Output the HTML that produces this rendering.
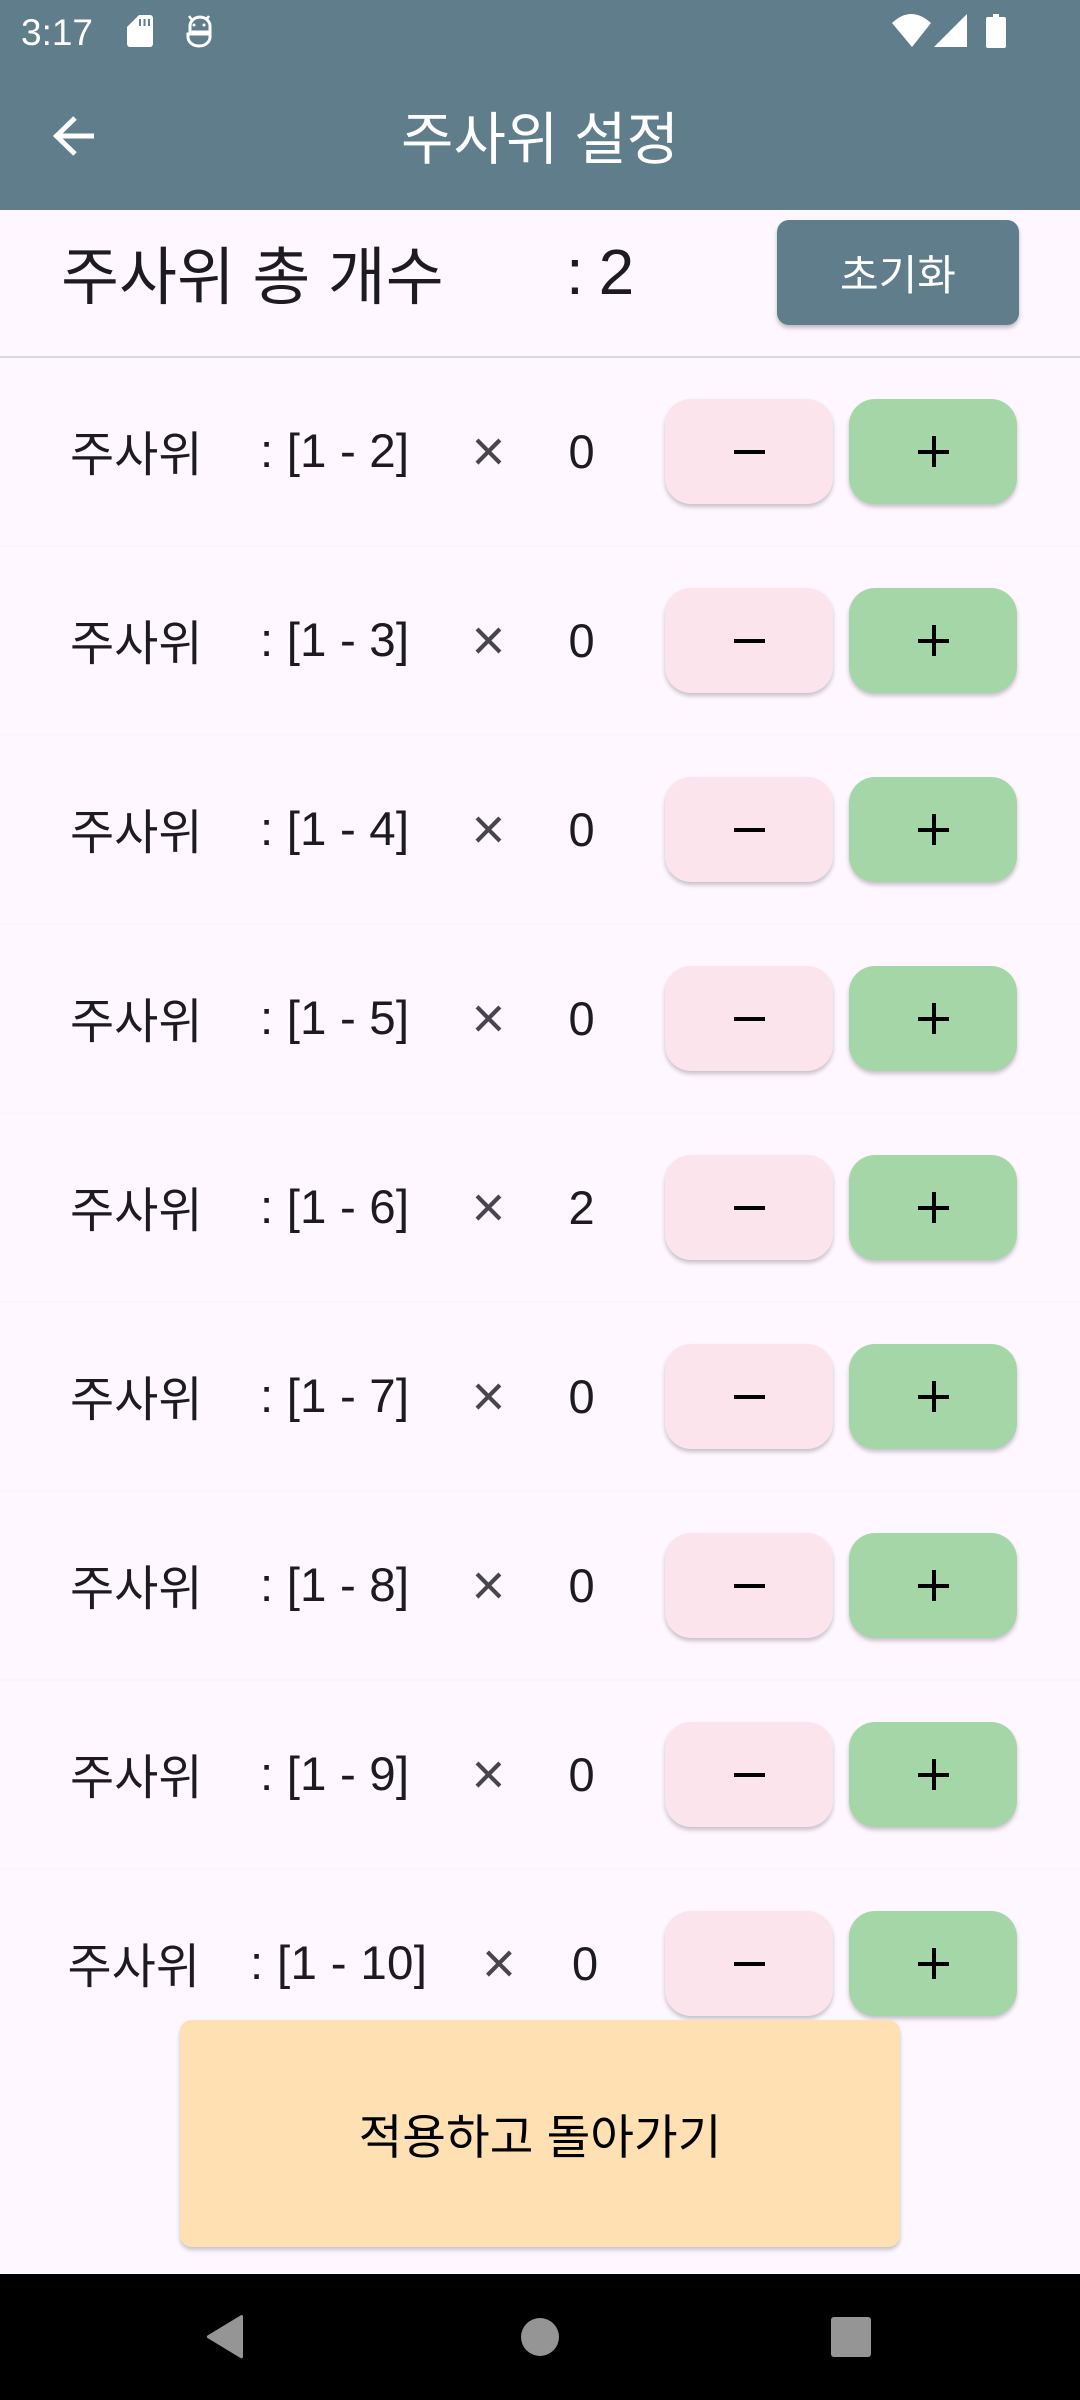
<!DOCTYPE html>
<html lang="ko">
<head>
<meta charset="utf-8">
<title>주사위 설정</title>
<style>
html,body{margin:0;padding:0;background:#FEF7FF}
body{width:1080px;height:2400px;position:relative;overflow:hidden;font-family:"Liberation Sans","Noto Sans CJK KR",sans-serif;color:#1D1B20}
.abs,.t{position:absolute;white-space:nowrap}
.t{line-height:60px;height:60px}
.row{position:absolute;left:0;width:1080px;height:189px;border-bottom:2px solid #FBF4FC;box-sizing:border-box}
.ko{left:70px;top:68px;font-size:48px}
.rng{left:260px;top:64px;font-size:47.5px;letter-spacing:.15px}
.x{left:471.5px;top:64px;font-size:58px;color:#49454F;width:32px;text-align:center}
.n{left:568.5px;top:64px;font-size:47px}
.btn{position:absolute;top:41px;height:105px;border-radius:26px;box-shadow:0 3px 4px rgba(0,0,0,.22);border:0;padding:0}
.minus{left:665px;width:168px;background:#FBE4EB}
.plus{left:849px;width:168px;background:#A5D6A7}
.g{position:absolute;background:#000}
.minus .g{left:69px;top:50.500px;width:31px;height:4.500px}
.plus .h{left:69px;top:50.500px;width:31px;height:4.500px}
.plus .v{left:82.500px;top:37px;width:4.500px;height:31px}
</style>
</head>
<body>

<div class="abs" style="left:0;top:0;width:1080px;height:210px;background:#607D8B"></div>

<div class="t" style="left:21px;top:3px;font-size:37px;color:#fff">3:17</div>
<svg class="abs" style="left:0;top:0" width="1080" height="60" viewBox="0 0 1080 60">
  <g>
    <path d="M139 15h11a3 3 0 0 1 3 3v26a3 3 0 0 1-3 3h-20a3 3 0 0 1-3-3V27z" fill="#fff"/>
    <path d="M140 19v7M144.500 19v7M149 19v7" stroke="#607D8B" stroke-width="2"/>
  </g>
  <g fill="none" stroke="#fff" stroke-width="3">
    <path d="M188 34h22v3a11 9 0 0 1-22 0z M210 32h-20v-6a9 8 0 0 1 20 0v6z"/>
    <path d="M189 16l3 4M209 16l-3 4" stroke-width="2.500"/>
    <circle cx="194" cy="25" r="1.500" fill="#fff" stroke="none"/>
    <circle cx="204" cy="25" r="1.500" fill="#fff" stroke="none"/>
  </g>
  <path d="M892 23Q911 5 931 23L912 47z" fill="#fff"/>
  <path d="M934 47L967 14V47z" fill="#fff"/>
  <path d="M993 14h6v3h5a2 2 0 0 1 2 2v27a2 2 0 0 1-2 2h-16a2 2 0 0 1-2-2V19a2 2 0 0 1 2-2h5z" fill="#fff"/>
</svg>

<svg class="abs" style="left:40px;top:105px" width="66" height="62" viewBox="40 105 66 62">
  <path d="M94 136H56M75 118L56.500 136L75 154" fill="none" stroke="#fff" stroke-width="5"/>
</svg>
<div class="t" style="left:401px;top:110px;font-size:57px;color:#fff">주사위 설정</div>

<div class="t" style="left:61px;top:248px;font-size:63px">주사위 총 개수</div>
<div class="t" style="left:566px;top:242px;font-size:64px;letter-spacing:-1.500px">: 2</div>
<div class="abs" style="left:777px;top:220px;width:242px;height:105px;border-radius:12px;background:#607D8B;box-shadow:0 3px 4px rgba(0,0,0,.25);color:#fff;font-size:42px;line-height:111px;text-align:center">초기화</div>
<div class="abs" style="left:0;top:356px;width:1080px;height:2px;background:#D6D8DF"></div>

<div class="row" style="top:358px">
  <div class="t ko">주사위</div>
  <div class="t rng">: [1 - 2]</div>
  <div class="t x">×</div>
  <div class="t n">0</div>
  <div class="btn minus"><i class="g"></i></div>
  <div class="btn plus"><i class="g h"></i><i class="g v"></i></div>
</div>
<div class="row" style="top:547px">
  <div class="t ko">주사위</div>
  <div class="t rng">: [1 - 3]</div>
  <div class="t x">×</div>
  <div class="t n">0</div>
  <div class="btn minus"><i class="g"></i></div>
  <div class="btn plus"><i class="g h"></i><i class="g v"></i></div>
</div>
<div class="row" style="top:736px">
  <div class="t ko">주사위</div>
  <div class="t rng">: [1 - 4]</div>
  <div class="t x">×</div>
  <div class="t n">0</div>
  <div class="btn minus"><i class="g"></i></div>
  <div class="btn plus"><i class="g h"></i><i class="g v"></i></div>
</div>
<div class="row" style="top:925px">
  <div class="t ko">주사위</div>
  <div class="t rng">: [1 - 5]</div>
  <div class="t x">×</div>
  <div class="t n">0</div>
  <div class="btn minus"><i class="g"></i></div>
  <div class="btn plus"><i class="g h"></i><i class="g v"></i></div>
</div>
<div class="row" style="top:1114px">
  <div class="t ko">주사위</div>
  <div class="t rng">: [1 - 6]</div>
  <div class="t x">×</div>
  <div class="t n">2</div>
  <div class="btn minus"><i class="g"></i></div>
  <div class="btn plus"><i class="g h"></i><i class="g v"></i></div>
</div>
<div class="row" style="top:1303px">
  <div class="t ko">주사위</div>
  <div class="t rng">: [1 - 7]</div>
  <div class="t x">×</div>
  <div class="t n">0</div>
  <div class="btn minus"><i class="g"></i></div>
  <div class="btn plus"><i class="g h"></i><i class="g v"></i></div>
</div>
<div class="row" style="top:1492px">
  <div class="t ko">주사위</div>
  <div class="t rng">: [1 - 8]</div>
  <div class="t x">×</div>
  <div class="t n">0</div>
  <div class="btn minus"><i class="g"></i></div>
  <div class="btn plus"><i class="g h"></i><i class="g v"></i></div>
</div>
<div class="row" style="top:1681px">
  <div class="t ko">주사위</div>
  <div class="t rng">: [1 - 9]</div>
  <div class="t x">×</div>
  <div class="t n">0</div>
  <div class="btn minus"><i class="g"></i></div>
  <div class="btn plus"><i class="g h"></i><i class="g v"></i></div>
</div>
<div class="row" style="top:1870px;border-bottom:0">
  <div class="t ko" style="left:67.500px">주사위</div>
  <div class="t rng" style="left:250px;letter-spacing:.3px">: [1 - 10]</div>
  <div class="t x" style="left:482px">×</div>
  <div class="t n" style="left:572px">0</div>
  <div class="btn minus"><i class="g"></i></div>
  <div class="btn plus"><i class="g h"></i><i class="g v"></i></div>
</div>

<div class="abs" style="left:180px;top:2020px;width:720px;height:227px;border-radius:12px;background:#FFE0B2;box-shadow:0 3px 4px rgba(0,0,0,.22);color:#000;font-size:47.500px;line-height:238px;text-align:center">적용하고 돌아가기</div>

<div class="abs" style="left:0;top:2274px;width:1080px;height:126px;background:#000"></div>
<svg class="abs" style="left:0;top:2274px" width="1080" height="126" viewBox="0 2274 1080 126">
  <path d="M243 2317v40a1.500 1.500 0 0 1-2.500 1l-33-20a1.500 1.500 0 0 1 0-2.500l33-20a1.500 1.500 0 0 1 2.500 1.500z" fill="#959595"/>
  <circle cx="540" cy="2337" r="19" fill="#959595"/>
  <rect x="831" y="2317" width="40" height="40" rx="3" fill="#959595"/>
</svg>
</body>
</html>
